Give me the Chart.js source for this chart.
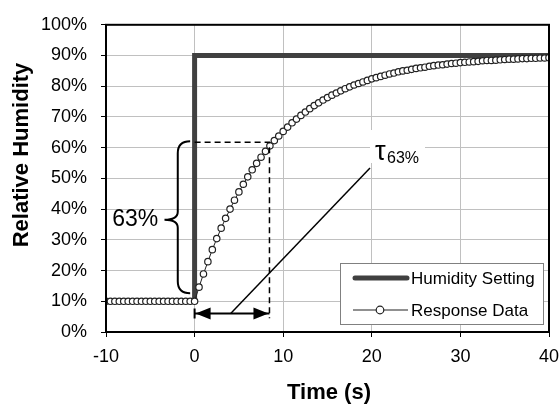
<!DOCTYPE html>
<html>
<head>
<meta charset="utf-8">
<script src="https://cdn.jsdelivr.net/npm/chart.js@4.4.1/dist/chart.umd.min.js"></script>
<style>
  html, body { margin:0; padding:0; background:#fff; }
  #wrap { width:559px; height:411px; }
</style>
</head>
<body>
<div id="wrap"><canvas id="chart" width="559" height="411"></canvas></div>
<script>
// step of the humidity set point
const settingTime  = [-10, 0, 0, 40];
const settingValue = [10, 10, 90, 90];

// measured response, one point every 0.5 s
const responseTime = [
  -10,-9.5,-9,-8.5,-8,-7.5,-7,-6.5,-6,-5.5,-5,-4.5,-4,-3.5,-3,-2.5,-2,-1.5,-1,-0.5,
  0,0.5,1,1.5,2,2.5,3,3.5,4,4.5,5,5.5,6,6.5,7,7.5,8,8.5,9,9.5,
  10,10.5,11,11.5,12,12.5,13,13.5,14,14.5,15,15.5,16,16.5,17,17.5,18,18.5,19,19.5,
  20,20.5,21,21.5,22,22.5,23,23.5,24,24.5,25,25.5,26,26.5,27,27.5,28,28.5,29,29.5,
  30,30.5,31,31.5,32,32.5,33,33.5,34,34.5,35,35.5,36,36.5,37,37.5,38,38.5,39,39.5,40
];
const responseValue = [
  10,10,10,10,10,10,10,10,10,10,10,10,10,10,10,10,10,10,10,10,
  10.0,14.6,18.9,22.9,26.8,30.4,33.8,37.0,40.0,42.9,
  45.6,48.1,50.5,52.8,54.9,56.9,58.8,60.6,62.3,63.8,
  65.3,66.7,68.1,69.3,70.5,71.6,72.7,73.7,74.6,75.5,
  76.3,77.1,77.8,78.5,79.2,79.8,80.4,80.9,81.4,81.9,
  82.4,82.8,83.2,83.6,84.0,84.3,84.7,85.0,85.2,85.5,
  85.8,86.0,86.2,86.5,86.7,86.9,87.0,87.2,87.4,87.5,
  87.7,87.8,87.9,88.0,88.1,88.3,88.4,88.4,88.5,88.6,
  88.7,88.8,88.8,88.9,89.0,89.0,89.1,89.1,89.2,89.2,
  89.3
];

const xTicks = [-10, 0, 10, 20, 30, 40];
const yTicks = [0, 10, 20, 30, 40, 50, 60, 70, 80, 90, 100];

const FONT = "'Liberation Sans', Arial, sans-serif";

// time constant marks (data units)
const tau = 8.45, tauLevel = 61.8;

const extras = {
  id: "extras",
  beforeDatasetsDraw(chart) {
    const { ctx } = chart;
    // white patch behind the tau label
    ctx.save();
    ctx.fillStyle = "#fff";
    ctx.fillRect(370, 130, 55, 33);
    ctx.restore();
  },
  afterDatasetsDraw(chart) {
    const { ctx, chartArea: a } = chart;
    const X = v => chart.scales.x.getPixelForValue(v);
    const Y = v => chart.scales.y.getPixelForValue(v);
    ctx.save();

    // frame
    ctx.strokeStyle = "#000";
    ctx.lineWidth = 2;
    ctx.strokeRect(a.left, a.top, a.right - a.left, a.bottom - a.top);

    // dashed guide lines
    ctx.lineWidth = 1.5;
    ctx.setLineDash([6, 4]);
    ctx.beginPath();
    ctx.moveTo(X(0), Y(tauLevel));
    ctx.lineTo(X(tau), Y(tauLevel));
    ctx.lineTo(X(tau), Y(4.5));
    ctx.stroke();
    ctx.setLineDash([]);

    // double arrow
    const ay = Y(6), x0 = X(0), x1 = X(tau);
    ctx.lineWidth = 2;
    ctx.beginPath();
    ctx.moveTo(x0, ay); ctx.lineTo(x1, ay);
    ctx.moveTo(x0, ay - 5); ctx.lineTo(x0, ay + 5);
    ctx.stroke();
    ctx.fillStyle = "#000";
    ctx.beginPath();
    ctx.moveTo(x0 + 1, ay); ctx.lineTo(x0 + 16, ay - 6); ctx.lineTo(x0 + 16, ay + 6); ctx.closePath();
    ctx.moveTo(x1 - 1, ay); ctx.lineTo(x1 - 16, ay - 6); ctx.lineTo(x1 - 16, ay + 6); ctx.closePath();
    ctx.fill();

    // leader to tau label
    ctx.lineWidth = 1.5;
    ctx.beginPath();
    ctx.moveTo(X(4.1), Y(6.1));
    ctx.lineTo(X(19.8), Y(53.4));
    ctx.stroke();

    ctx.textBaseline = "alphabetic";
    ctx.textAlign = "left";
    ctx.font = "27px " + FONT;
    ctx.fillText("τ", 375, 160);
    ctx.font = "16px " + FONT;
    ctx.fillText("63%", 387, 163);

    // curly brace
    const bx = X(-1.9), tipX = X(-3.4), endX = X(-0.5);
    const yT = Y(62.1), yB = Y(12.6), yM = Y(36.5);
    ctx.lineWidth = 2;
    ctx.beginPath();
    ctx.moveTo(endX, yT);
    ctx.quadraticCurveTo(bx, yT, bx, yT + 12);
    ctx.lineTo(bx, yM - 8);
    ctx.quadraticCurveTo(bx, yM, tipX, yM);
    ctx.quadraticCurveTo(bx, yM, bx, yM + 8);
    ctx.lineTo(bx, yB - 12);
    ctx.quadraticCurveTo(bx, yB, endX, yB);
    ctx.stroke();

    ctx.font = "23px " + FONT;
    ctx.textAlign = "center";
    ctx.textBaseline = "middle";
    ctx.fillText("63%", X(-6.7), Y(36.6));

    // legend box
    ctx.fillStyle = "#fff";
    ctx.fillRect(340, 263, 203, 61);
    ctx.strokeStyle = "#808080";
    ctx.lineWidth = 1;
    ctx.strokeRect(340.5, 263.5, 203, 61);
    ctx.strokeStyle = "#404040";
    ctx.lineCap = "round";
    ctx.lineWidth = 5;
    ctx.beginPath(); ctx.moveTo(355, 278); ctx.lineTo(407, 278); ctx.stroke();
    ctx.lineCap = "butt";
    ctx.lineWidth = 1.2;
    ctx.strokeStyle = "#222";
    ctx.beginPath(); ctx.moveTo(353, 310); ctx.lineTo(408, 310); ctx.stroke();
    ctx.fillStyle = "#fff";
    ctx.beginPath(); ctx.arc(380, 310, 3.8, 0, Math.PI * 2); ctx.fill(); ctx.stroke();
    ctx.fillStyle = "#000";
    ctx.font = "17px " + FONT;
    ctx.textAlign = "left";
    ctx.fillText("Humidity Setting", 411, 279);
    ctx.fillText("Response Data", 411, 311);

    // axis titles
    ctx.font = "bold 22px " + FONT;
    ctx.textAlign = "center";
    ctx.fillText("Time (s)", 329, 393);
    ctx.translate(22, 155);
    ctx.rotate(-Math.PI / 2);
    ctx.fillText("Relative Humidity", 0, 0);
    ctx.restore();
  }
};

new Chart(document.getElementById("chart").getContext("2d"), {
  type: "scatter",
  data: {
    datasets: [
      {
        label: "Humidity Setting",
        data: settingTime.map((t, i) => ({ x: t, y: settingValue[i] })),
        showLine: true, borderColor: "#404040", borderWidth: 5,
        pointRadius: 0, order: 1
      },
      {
        label: "Response Data",
        data: responseTime.map((t, i) => ({ x: t, y: responseValue[i] })),
        showLine: true, borderColor: "#222", borderWidth: 1,
        pointRadius: 3.2, pointBackgroundColor: "#fff", pointBorderColor: "#222",
        pointBorderWidth: 1.2, order: 0
      }
    ]
  },
  options: {
    responsive: false,
    animation: false,
    devicePixelRatio: 1,
    layout: { padding: { top: 18, right: 10, left: 0, bottom: 0 } },
    plugins: { legend: { display: false }, tooltip: { enabled: false } },
    scales: {
      x: {
        type: "linear", min: -10, max: 40,
        afterBuildTicks: s => { s.ticks = xTicks.map(v => ({ value: v })); },
        afterFit: s => { s.height = 79; s.paddingLeft = 0; s.paddingRight = 0; },
        grid: { color: "#c0c0c0", tickColor: "#000", tickLength: 5 },
        border: { color: "#000", width: 2 },
        ticks: { color: "#000", padding: 9, maxRotation: 0, font: { family: FONT, size: 18 } }
      },
      y: {
        min: 0, max: 100,
        afterBuildTicks: s => { s.ticks = yTicks.map(v => ({ value: v })); },
        afterFit: s => { s.width = 106; },
        grid: { color: "#c0c0c0", tickColor: "#000", tickLength: 5 },
        border: { color: "#000", width: 2 },
        ticks: { color: "#000", padding: 14, font: { family: FONT, size: 18 }, callback: v => v + "%" }
      }
    }
  },
  plugins: [extras]
});
</script>
</body>
</html>
